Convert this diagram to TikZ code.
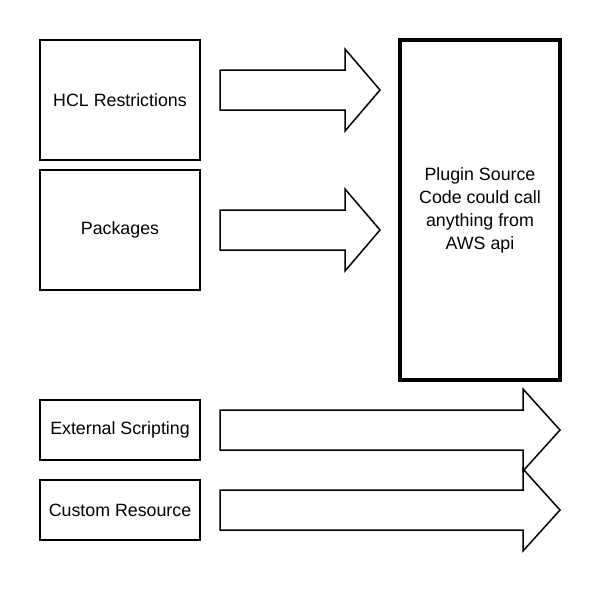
\documentclass[tikz,border=0pt]{standalone}
\usepackage{fontspec}
\setmainfont{Liberation Sans}
\begin{document}
\begin{tikzpicture}[x=1pt,y=-1pt,
  box/.style={draw=black,line width=1.5pt,fill=white,inner sep=0pt,align=center,font=\fontsize{17.8}{23}\selectfont},
  bigbox/.style={box,line width=3.5pt},
  blockarrow/.style={draw=black,line width=1.5pt,fill=white,line join=miter}]
\useasboundingbox (0,0) rectangle (600,590);
\node[box,minimum width=160pt,minimum height=120pt] (hcl) at (120,100) {HCL Restrictions};
\node[box,minimum width=160pt,minimum height=120pt] (pkg) at (120,230) {Packages};
\node[box,minimum width=160pt,minimum height=60pt] (ext) at (120,430) {External Scripting};
\node[box,minimum width=160pt,minimum height=60pt] (cust) at (120,510) {Custom Resource};
\node[bigbox,minimum width=160pt,minimum height=340pt] (plug) at (480,210) {Plugin Source\\Code could call\\anything from\\AWS api};
% block arrows
\draw[blockarrow] (220,70) -- (345,70) -- (345,49) -- (380,90) -- (345,131) -- (345,110) -- (220,110) -- cycle;
\draw[blockarrow] (220,210) -- (345,210) -- (345,189) -- (380,230) -- (345,271) -- (345,250) -- (220,250) -- cycle;
\draw[blockarrow] (220,410) -- (523,410) -- (523,389) -- (560,430) -- (523,471) -- (523,450) -- (220,450) -- cycle;
\draw[blockarrow] (220,490) -- (523,490) -- (523,469) -- (560,510) -- (523,551) -- (523,530) -- (220,530) -- cycle;
\end{tikzpicture}
\end{document}
